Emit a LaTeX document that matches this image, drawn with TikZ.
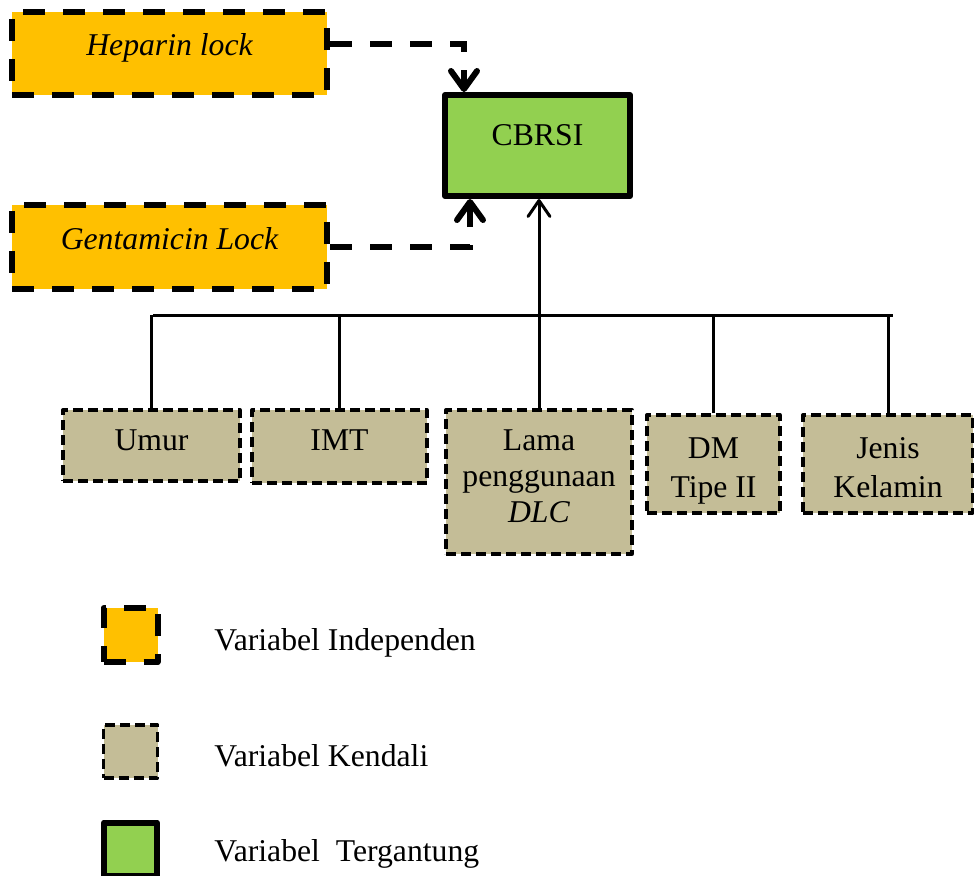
\documentclass[tikz,border=0pt]{standalone}
\usepackage{fontspec}
\setmainfont{Liberation Serif}
\usetikzlibrary{arrows.meta}
\definecolor{indep}{HTML}{FFC000}
\definecolor{kendali}{HTML}{C4BD97}
\definecolor{terikat}{HTML}{92D050}
\newcommand{\diagfont}{\fontsize{15.85pt}{19.5pt}\selectfont}
\tikzset{
  indepbox/.style   = {draw, fill=indep, line width=3pt, line join=round,
                       dash pattern=on 11pt off 9pt, inner sep=0pt, font=\diagfont\itshape},
  kendalibox/.style = {draw, fill=kendali, line width=1.65pt, line join=round,
                       dash pattern=on 5pt off 2.5pt, inner sep=0pt, align=center},
  terikatbox/.style = {draw, fill=terikat, line width=3pt, line join=round, inner sep=0pt},
  indeplink/.style  = {line width=3pt, dash pattern=on 11pt off 9pt,
                       -{Straight Barb[length=9pt,width=13pt,round]}},
  kendalilink/.style = {line width=1.5pt},
  legtext/.style    = {anchor=base west, inner sep=0pt}
}

\begin{document}
\begin{tikzpicture}[x=0.5pt, y=-0.5pt, font=\diagfont]
    \useasboundingbox (0,0) rectangle (974,875);
    \clip (0,0) rectangle (974,875);

    % variabel independen
    \node[indepbox, minimum width=157.5pt, minimum height=41.5pt, text depth=9pt] (hep) at (169.5,53.5) {Heparin lock};
    \node[indepbox, minimum width=157.5pt, minimum height=42pt, text depth=9pt] (gent) at (169.5,247) {Gentamicin Lock};

    % variabel tergantung
    \node[terikatbox, minimum width=92.5pt, minimum height=50.5pt, text depth=10.5pt] (cbrsi) at (537.5,145.5) {CBRSI};

    % variabel kendali
    \node[kendalibox, minimum width=88.5pt, minimum height=35.5pt, text depth=5.5pt] (umur) at (151.5,445.5) {Umur};
    \node[kendalibox, minimum width=87.5pt, minimum height=36.5pt, text depth=6.5pt] (imt) at (339.5,446.5) {IMT};
    \node[kendalibox, minimum width=93pt, minimum height=72pt, text depth=6pt,
          font=\fontsize{15.85pt}{18pt}\selectfont] (lama) at (539,482) {Lama\\penggunaan\\\textit{DLC}};
    \node[kendalibox, minimum width=66.5pt, minimum height=49pt, text height=37pt] (dm) at (713.5,464) {DM\\Tipe II};
    \node[kendalibox, minimum width=85pt, minimum height=49pt, text height=33.8pt] (jenis) at (888,464) {Jenis\\Kelamin};

    % garis penghubung
    \draw[indeplink] ([yshift=4.75pt]hep.east) -| ([xshift=11pt]cbrsi.north west);
    \draw[indeplink] (gent.east) -| ([xshift=14pt]cbrsi.south west);

    \coordinate (barL) at (153,315);
    \coordinate (barR) at (893,315);
    \draw[kendalilink] (barL) -- (barR);
    \draw[kendalilink] (umur.north) -- (umur.north |- barL);
    \draw[kendalilink] (imt.north) -- (imt.north |- barL);
    \draw[kendalilink] (dm.north) -- (dm.north |- barL);
    \draw[kendalilink] (jenis.north) -- (jenis.north |- barL);
    \draw[kendalilink, -{Straight Barb[length=8pt,width=11pt,round]}] (lama.north) -- (lama.north |- cbrsi.south);

    % keterangan
    \node[indepbox, minimum width=27pt, minimum height=27pt] (symindep) at (130.5,635) {};
    \node[kendalibox, minimum width=27pt, minimum height=26.5pt] (symkendali) at (130.5,751.5) {};
    \node[terikatbox, minimum width=26.5pt, minimum height=26.5pt] (symterikat) at (130.5,849) {};
    \node[legtext] (legindep) at (214,650) {Variabel Independen};
    \node[legtext] (legkendali) at (214,766) {Variabel Kendali};
    \node[legtext] (legterikat) at (214,861) {Variabel\ \ Tergantung};
\end{tikzpicture}
\end{document}
